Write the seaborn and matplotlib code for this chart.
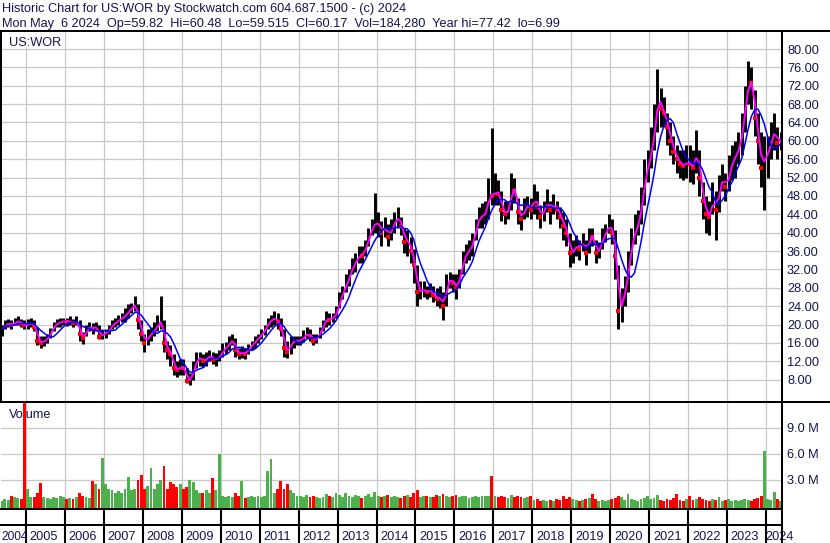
import numpy as np
import pandas as pd
import matplotlib
matplotlib.use("Agg")
import matplotlib.pyplot as plt
from matplotlib.patches import Rectangle
import seaborn as sns

# ---------------- data: monthly bars, May 2004 .. May 2024 ----------------
START_YEAR, START_MONTH = 2004, 5

close = [
    19.0, 20.0, 20.3, 19.8, 20.5, 20.8, 20.2, 19.8,                      # 2004 (May-Dec)
    20.0, 20.5, 19.5, 16.5, 16.0, 16.5, 17.0, 18.5, 19.8, 20.3, 20.5, 20.8,  # 2005
    20.5, 20.8, 20.3, 20.8, 18.0, 17.0, 19.0, 19.5, 19.0, 19.8, 17.3, 18.0,  # 2006
    18.0, 19.0, 20.0, 20.5, 21.0, 21.5, 22.0, 23.0, 23.8, 24.5, 21.0, 18.0,  # 2007
    16.0, 17.5, 18.0, 19.0, 20.0, 21.0, 16.0, 14.5, 13.5, 10.5, 10.0, 11.0,  # 2008
    10.5, 7.8, 8.0, 10.5, 12.5, 12.8, 12.0, 12.5, 13.5, 12.3, 12.5, 13.0,    # 2009
    14.5, 15.0, 16.0, 16.8, 14.5, 13.5, 14.0, 13.5, 15.0, 15.5, 16.5, 17.2,  # 2010
    18.0, 19.0, 20.5, 21.0, 21.5, 20.5, 19.0, 15.0, 14.0, 16.0, 16.5, 16.5,  # 2011
    16.5, 17.5, 18.0, 17.5, 16.5, 17.0, 18.5, 20.0, 21.5, 21.0, 21.5, 22.5,  # 2012
    25.5, 27.0, 29.0, 30.5, 33.0, 33.5, 35.5, 35.0, 37.0, 39.0, 41.5, 42.0,  # 2013
    42.0, 40.0, 41.5, 39.0, 41.0, 42.5, 43.5, 41.5, 38.0, 38.5, 36.0, 33.0,  # 2014
    27.0, 27.5, 27.5, 27.0, 27.5, 26.5, 25.5, 26.0, 24.0, 29.0, 30.0, 29.0,  # 2015
    28.0, 30.5, 34.0, 35.5, 36.5, 37.5, 41.5, 43.5, 43.5, 44.5, 48.5, 48.0,  # 2016
    49.0, 48.5, 45.0, 44.0, 45.0, 50.0, 49.0, 44.5, 43.0, 45.5, 46.0, 45.0,  # 2017
    48.0, 45.5, 43.5, 45.0, 47.0, 45.0, 46.5, 45.0, 43.5, 41.5, 40.0, 35.5,  # 2018
    36.0, 37.5, 36.5, 38.5, 35.5, 39.5, 39.0, 35.5, 36.5, 39.0, 40.0, 42.0,  # 2019
    40.0, 35.0, 23.0, 25.0, 28.0, 33.0, 38.0, 40.5, 42.0, 46.5, 52.0, 55.0,  # 2020
    58.0, 63.0, 70.0, 67.0, 66.0, 63.0, 60.0, 57.5, 56.0, 55.0, 54.5, 55.5,  # 2021
    55.0, 54.0, 58.5, 52.0, 47.0, 44.0, 43.5, 48.0, 45.0, 50.0, 52.0, 50.0,  # 2022
    53.0, 56.0, 56.5, 59.0, 62.0, 69.0, 73.0, 72.5, 65.0, 60.0, 54.0, 57.0,  # 2023
    57.0, 61.0, 62.0, 59.5, 60.2,                                          # 2024 (Jan-May)
]

high = [
    20.0, 21.0, 21.3, 21.0, 21.5, 21.8, 21.2, 21.0,
    21.3, 21.5, 21.0, 19.5, 17.5, 17.5, 18.0, 19.3, 20.5, 21.3, 21.5, 21.5,
    21.5, 21.8, 21.3, 21.8, 21.0, 18.3, 19.8, 20.5, 20.3, 20.5, 20.0, 18.8,
    19.0, 20.0, 21.0, 21.5, 22.0, 22.5, 23.5, 24.5, 24.8, 26.3, 24.5, 21.0,
    18.0, 19.0, 19.5, 20.5, 22.0, 26.2, 21.0, 16.5, 15.5, 13.5, 12.0, 12.5,
    12.5, 10.5, 9.5, 12.0, 14.0, 14.0, 13.5, 14.0, 14.5, 14.0, 13.8, 14.5,
    16.0, 16.3, 17.5, 18.0, 17.0, 15.0, 15.3, 15.0, 15.8, 16.5, 17.5, 18.0,
    19.0, 20.0, 21.5, 22.0, 23.0, 22.5, 21.5, 19.0, 16.5, 17.5, 17.5, 17.5,
    17.5, 18.8, 19.5, 19.0, 18.0, 18.0, 19.5, 21.0, 23.0, 22.5, 22.5, 24.0,
    27.0, 28.5, 31.0, 32.0, 34.5, 35.5, 37.0, 37.0, 38.5, 41.0, 43.0, 48.6,
    44.5, 42.5, 43.5, 42.0, 43.0, 44.5, 45.5, 43.5, 41.0, 40.5, 39.0, 36.5,
    33.0, 29.5, 29.5, 28.5, 29.0, 28.5, 28.0, 28.5, 27.0, 31.0, 31.5, 31.0,
    31.0, 32.0, 36.0, 37.5, 38.5, 40.0, 43.0, 45.5, 46.5, 47.0, 52.0, 62.8,
    53.0, 51.5, 49.0, 47.0, 47.0, 53.0, 52.0, 47.5, 45.0, 47.5, 48.0, 47.5,
    50.5, 49.0, 46.0, 47.0, 49.5, 47.0, 48.5, 47.0, 45.5, 44.5, 43.0, 40.0,
    38.5, 39.5, 38.5, 40.0, 38.5, 41.0, 41.0, 38.5, 38.0, 41.0, 42.0, 44.0,
    43.0, 40.5, 33.0, 28.0, 30.5, 36.0, 41.0, 44.0, 45.0, 50.0, 56.0, 58.0,
    63.0, 68.0, 75.6, 71.5, 69.5, 66.0, 64.0, 61.0, 59.0, 58.0, 58.0, 59.0,
    59.0, 58.0, 62.4, 58.0, 51.0, 48.0, 47.0, 51.0, 49.0, 52.5, 55.0, 53.0,
    57.0, 59.0, 60.0, 62.0, 66.0, 72.0, 77.4, 76.0, 71.0, 66.0, 62.0, 61.0,
    61.0, 64.0, 66.0, 63.0, 62.0,
]

low = [
    17.5, 19.0, 19.5, 19.0, 19.8, 20.0, 19.5, 19.0,
    19.0, 19.5, 18.5, 15.5, 15.0, 15.3, 16.0, 17.0, 18.5, 19.5, 19.5, 20.0,
    19.7, 20.0, 19.5, 19.8, 16.5, 15.8, 17.5, 18.5, 18.0, 18.5, 16.8, 16.8,
    17.0, 18.0, 19.0, 19.5, 20.0, 20.5, 20.5, 21.5, 22.5, 23.0, 19.0, 16.5,
    14.0, 15.5, 16.5, 17.5, 18.5, 19.0, 14.0, 12.5, 11.0, 9.0, 8.5, 9.0,
    9.0, 7.3, 6.8, 8.0, 10.5, 11.0, 10.8, 11.0, 12.0, 11.5, 11.0, 12.0,
    13.0, 13.5, 14.5, 15.5, 13.0, 12.5, 12.8, 12.5, 13.5, 14.5, 15.0, 16.0,
    16.8, 17.8, 19.0, 19.5, 20.0, 19.0, 17.5, 13.0, 12.8, 13.5, 15.0, 15.5,
    15.5, 16.3, 17.0, 16.5, 15.5, 16.0, 17.0, 18.5, 19.5, 20.0, 20.5, 21.5,
    23.5, 25.5, 27.0, 28.5, 31.0, 31.5, 33.5, 33.5, 35.0, 37.0, 39.5, 40.0,
    39.0, 37.0, 39.0, 37.0, 38.5, 40.0, 41.0, 39.5, 35.5, 35.0, 33.5, 29.0,
    24.0, 25.5, 26.0, 25.5, 26.0, 25.0, 24.0, 23.5, 21.0, 24.0, 28.0, 27.0,
    25.5, 28.0, 31.0, 33.5, 34.0, 35.0, 38.5, 41.0, 41.0, 42.0, 43.0, 46.0,
    46.0, 46.0, 42.5, 42.0, 43.0, 45.0, 46.5, 42.0, 40.5, 43.0, 43.5, 43.0,
    44.0, 43.0, 41.0, 42.5, 44.5, 42.0, 44.0, 43.0, 41.0, 38.5, 37.0, 32.5,
    33.5, 35.0, 34.0, 36.0, 33.0, 35.5, 37.0, 33.5, 34.5, 36.5, 38.0, 40.0,
    37.5, 30.0, 19.0, 20.5, 24.0, 27.0, 33.0, 37.5, 39.5, 42.0, 46.0, 51.0,
    54.0, 58.0, 62.0, 63.0, 63.0, 59.0, 57.0, 55.0, 53.0, 52.0, 51.5, 52.0,
    51.0, 50.5, 53.0, 48.0, 43.0, 40.0, 39.5, 44.0, 38.5, 44.5, 49.0, 47.0,
    49.0, 51.5, 52.0, 55.0, 57.0, 62.0, 68.0, 67.0, 61.0, 55.0, 50.0, 45.0,
    52.0, 56.0, 58.0, 56.0, 58.0,
]

volume_m = [
    0.6, 0.8, 0.7, 1.2, 1.0, 0.9, 0.8, 14.0,
    2.0, 1.0, 1.0, 1.5, 2.7, 1.0, 0.9, 0.8, 1.0, 0.9, 1.2, 1.0,
    0.8, 0.9, 0.8, 1.0, 1.5, 1.2, 1.0, 0.9, 2.9, 2.5, 2.0, 5.5,
    2.5, 2.0, 1.8, 1.5, 1.7, 1.5, 2.0, 3.3, 1.8, 2.0, 3.0, 3.6,
    2.0, 2.3, 4.4, 2.0, 2.5, 3.0, 4.6, 2.0, 2.8, 2.5, 2.2, 2.5,
    2.0, 2.2, 3.0, 2.8, 1.8, 1.5, 1.5, 1.8, 1.5, 3.2, 1.8, 6.0,
    1.2, 1.0, 1.2, 1.0, 1.5, 1.2, 2.9, 0.9, 1.0, 1.2, 1.0, 1.2,
    1.0, 1.1, 4.0, 5.4, 1.5, 2.0, 2.9, 2.0, 2.5, 1.8, 1.5, 1.2,
    1.2, 1.0, 1.3, 1.0, 1.2, 1.0, 0.9, 1.0, 1.4, 1.2, 1.0, 1.5,
    1.3, 1.0, 1.5, 1.2, 1.0, 1.3, 1.1, 0.9, 1.2, 1.4, 1.0, 1.6,
    1.2, 1.0, 1.1, 1.3, 1.0, 1.2, 1.0, 0.9, 1.1, 1.3, 1.0, 1.5,
    1.8, 1.0, 1.1, 1.2, 1.0, 1.0, 1.3, 1.1, 1.4, 1.2, 1.0, 1.2,
    1.3, 1.0, 1.1, 1.2, 0.9, 1.0, 1.1, 1.0, 1.2, 1.1, 1.2, 3.5,
    1.2, 1.0, 1.1, 1.0, 0.9, 1.3, 1.0, 1.1, 1.0, 0.9, 1.0, 1.1,
    0.7, 0.8, 0.6, 0.7, 0.6, 0.7, 0.6, 0.8, 0.7, 1.2, 0.8, 1.0,
    0.8, 0.7, 0.6, 0.7, 0.8, 0.9, 1.4, 0.8, 0.6, 0.7, 0.6, 0.7,
    0.8, 0.9, 1.2, 1.0, 0.7, 1.4, 0.8, 0.7, 0.6, 0.8, 0.9, 1.2,
    0.8, 0.9, 1.3, 0.7, 0.6, 0.8, 0.7, 0.9, 1.4, 0.7, 0.6, 0.8,
    1.1, 0.7, 0.8, 1.0, 0.8, 0.7, 0.6, 0.8, 0.7, 1.0, 0.6, 0.7,
    0.8, 0.6, 0.7, 0.6, 0.7, 0.8, 0.7, 0.6, 0.8, 0.9, 1.2, 6.3,
    0.8, 0.7, 1.6, 0.8, 0.6,
]

price_ticks = list(range(8, 81, 4))
volume_ticks = [3, 6, 9]
year_labels = list(range(2004, 2025))

header_1 = "Historic Chart for US:WOR by Stockwatch.com 604.687.1500 - (c) 2024"
header_2 = ("Mon May  6 2024  Op=59.82  Hi=60.48  Lo=59.515  Cl=60.17  "
            "Vol=184,280  Year hi=77.42  lo=6.99")
symbol = "US:WOR"

# ---------------- derived frame ----------------
n = len(close)
t = [START_YEAR + (START_MONTH - 1 + i + 0.5) / 12.0 for i in range(n)]
df = pd.DataFrame({"t": t, "close": close, "high": high, "low": low, "vol": volume_m})
df["ma_fast"] = df["close"].rolling(2, min_periods=1).mean()
df["ma_slow"] = df["close"].rolling(6, min_periods=1).mean()
df["down"] = df["close"].diff().fillna(0) < 0

# ---------------- style ----------------
sns.set_style("white")
plt.rcParams["font.family"] = ["Liberation Sans", "DejaVu Sans"]
TXT = "#141450"
GRID = "#c8c8c8"
FS = 9.2

W, H = 830, 543
fig = plt.figure(figsize=(W / 100, H / 100), dpi=100)
fig.patch.set_facecolor("white")


def box(l, tp, r, b):
    return [l / W, 1 - b / H, (r - l) / W, (b - tp) / H]


X0, X1 = 1.0, 782.0
PXY = 38.947  # px per year
XMIN = 2005 - (26 - X0) / PXY
XMAX = 2005 + (X1 - 26) / PXY
Y_TOP, Y_SEP, Y_VB, Y_MID = 30.5, 401.5, 509.3, 525.0

ax_p = fig.add_axes(box(X0, Y_TOP, X1, Y_SEP))
ax_v = fig.add_axes(box(X0, Y_SEP, X1, Y_VB))
ax_d = fig.add_axes(box(X0, Y_VB, X1, H))

# price scale: 80 at y=49, 4.5925 px per unit
PPU = 4.5925
ax_p.set_ylim(80 - (Y_SEP - 49) / PPU, 80 + (49 - Y_TOP) / PPU)
# volume scale: 3M at y=480, 26 px per 3M
VPM = 26 / 3
v_lo = 3 - (Y_VB - 480) / VPM
v_hi = 3 + (480 - Y_SEP) / VPM
ax_v.set_ylim(v_lo, v_hi)

for ax in (ax_p, ax_v, ax_d):
    ax.set_xlim(XMIN, XMAX)
    for s in ax.spines.values():
        s.set_visible(False)
    ax.set_facecolor("white")
    ax.set_axisbelow(True)

# grids
for ax in (ax_p, ax_v):
    ax.set_xticks(range(2005, 2025))
    ax.grid(True, color=GRID, lw=0.9)
    ax.tick_params(axis="x", length=0, labelbottom=False)
    ax.yaxis.tick_right()
    ax.tick_params(axis="y", length=0, pad=3.6, labelsize=FS, labelcolor=TXT)

ax_p.set_yticks(price_ticks)
ax_p.set_yticklabels([f"{v:.2f}" for v in price_ticks])
ax_v.set_yticks(volume_ticks)
ax_v.set_yticklabels([f"{v:.1f} M" for v in volume_ticks])

# price bars
ax_p.vlines(df["t"], df["low"], df["high"], color="black", lw=2.1, zorder=2)
dn = df[df["down"]]
sns.scatterplot(x=dn["t"], y=dn["close"], ax=ax_p, color="red", marker="s",
                s=7, linewidth=0, zorder=3, legend=False)
sns.lineplot(x=df["t"], y=df["ma_fast"], ax=ax_p, color="#ff00ff", lw=1.4,
             estimator=None, sort=False, zorder=4)
sns.lineplot(x=df["t"], y=df["ma_slow"], ax=ax_p, color="#0000ff", lw=1.1,
             estimator=None, sort=False, zorder=5)
ax_p.set_xlabel("")
ax_p.set_ylabel("")

# volume bars
vcol = np.where(df["down"], "#ff0000", "#4cb04c")
ax_v.bar(df["t"], df["vol"] - v_lo, bottom=v_lo, width=0.88 / 12,
         color=vcol, linewidth=0, zorder=2)
ax_v.set_xlabel("")
ax_v.set_ylabel("")

# date band
ax_d.set_ylim(0, 1)
ax_d.set_xticks([])
ax_d.set_yticks([])
ax_d.vlines(range(2005, 2025), 0, 1, color="black", lw=1.5)
yb = (H - 540) / (H - Y_VB)
for yr in year_labels:
    if yr == 2004:
        ax_d.text(XMIN + 0.2 / PXY, yb, str(yr), ha="left", va="baseline",
                  fontsize=8.6, color=TXT)
    elif yr == 2024:
        ax_d.text(yr - 1.0 / PXY, yb, str(yr), ha="left", va="baseline",
                  fontsize=FS, color=TXT, clip_on=False)
    else:
        ax_d.text(yr + 3.8 / PXY, yb, str(yr), ha="left", va="baseline",
                  fontsize=FS, color=TXT)

# overlay frame in pixel coordinates
ax_o = fig.add_axes([0, 0, 1, 1], zorder=10)
ax_o.set_xlim(0, W)
ax_o.set_ylim(H, 0)
ax_o.axis("off")
ax_o.patch.set_alpha(0)
LW = 1.45
ax_o.plot([0, W], [Y_TOP, Y_TOP], color="black", lw=LW)
ax_o.plot([0, W], [Y_SEP, Y_SEP], color="black", lw=LW)
ax_o.plot([0, X1], [Y_VB, Y_VB], color="black", lw=LW)
ax_o.plot([0, X1], [Y_MID, Y_MID], color="black", lw=LW)
ax_o.plot([X1, X1], [Y_TOP, H], color="black", lw=LW)
ax_o.plot([0.75, 0.75], [Y_TOP, Y_SEP], color="black", lw=LW)

# labels
ax_o.add_patch(Rectangle((2, Y_TOP + 1), 62, 15.5, facecolor="white",
                         edgecolor="none", zorder=1))
ax_o.text(9, 46, symbol, fontsize=FS, color=TXT, va="baseline", zorder=2)
ax_v.text((9 - X0) / (X1 - X0), (Y_VB - 418) / (Y_VB - Y_SEP), "Volume",
          transform=ax_v.transAxes, fontsize=FS, color=TXT, va="baseline",
          zorder=1)
fig.text(2 / W, 1 - 12 / H, header_1, fontsize=FS, color=TXT, va="baseline")
fig.text(2 / W, 1 - 26.5 / H, header_2, fontsize=FS, color=TXT, va="baseline")

fig.savefig("out.png", dpi=100, facecolor="white")
